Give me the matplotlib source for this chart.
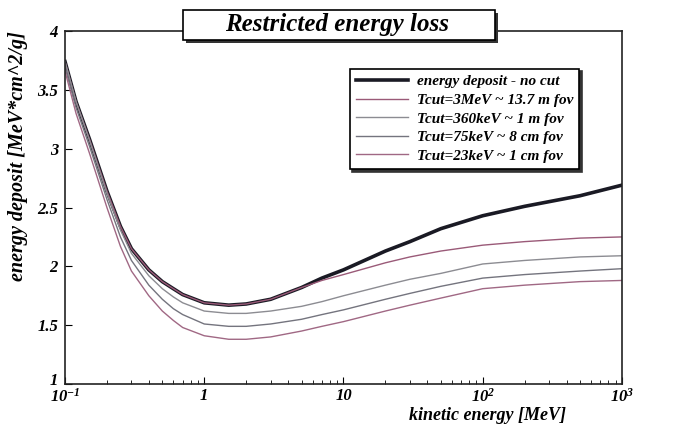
import matplotlib
matplotlib.use("Agg")
import matplotlib.pyplot as plt
from matplotlib.patches import Rectangle
from matplotlib.transforms import ScaledTranslation

plt.rcParams['font.family'] = ['Liberation Serif', 'DejaVu Serif']
plt.rcParams['mathtext.fontset'] = 'custom'
plt.rcParams['mathtext.rm'] = 'Liberation Serif:italic:bold'
plt.rcParams['mathtext.it'] = 'Liberation Serif:italic:bold'

# ******* data *****************************

energy = [0.1, 0.12, 0.15, 0.2, 0.25, 0.3, 0.4, 0.5, 0.6, 0.7, 1, 1.5, 2, 3,
          5, 7, 10, 20, 30, 50, 100, 200, 500, 1000]

no_cut = [3.74, 3.40, 3.08, 2.64, 2.34, 2.15, 1.97, 1.87, 1.81, 1.76, 1.69,
          1.67, 1.68, 1.72, 1.82, 1.90, 1.97, 2.13, 2.21, 2.32, 2.43, 2.51,
          2.60, 2.69]
cut_3MeV = [3.74, 3.40, 3.08, 2.64, 2.34, 2.15, 1.97, 1.87, 1.81, 1.76, 1.69,
            1.67, 1.68, 1.72, 1.82, 1.88, 1.93, 2.03, 2.08, 2.13, 2.18, 2.21,
            2.24, 2.25]
cut_360keV = [3.74, 3.40, 3.07, 2.62, 2.31, 2.11, 1.92, 1.81, 1.74, 1.69,
              1.62, 1.60, 1.60, 1.62, 1.66, 1.70, 1.75, 1.84, 1.89, 1.94,
              2.02, 2.05, 2.08, 2.09]
cut_75keV = [3.70, 3.35, 3.02, 2.57, 2.25, 2.05, 1.84, 1.72, 1.64, 1.59,
             1.51, 1.49, 1.49, 1.51, 1.55, 1.59, 1.63, 1.72, 1.77, 1.83,
             1.90, 1.93, 1.96, 1.98]
cut_23keV = [3.66, 3.30, 2.96, 2.50, 2.17, 1.96, 1.75, 1.62, 1.54, 1.48,
             1.41, 1.38, 1.38, 1.40, 1.45, 1.49, 1.53, 1.62, 1.67, 1.73,
             1.81, 1.84, 1.87, 1.88]

labels = ["energy deposit - no cut",
          "Tcut=3MeV ~ 13.7 m fov",
          "Tcut=360keV ~ 1 m fov",
          "Tcut=75keV ~ 8 cm fov",
          "Tcut=23keV ~ 1 cm fov"]

x_ticks = [0.1, 1, 10, 100, 1000]
x_ticklabels = [r"$10^{-1}$", "1", "10", r"$10^{2}$", r"$10^{3}$"]
y_ticks = [1, 1.5, 2, 2.5, 3, 3.5, 4]
y_ticklabels = ["1", "1.5", "2", "2.5", "3", "3.5", "4"]

# **********************************

W, H = 693, 425


def px(x, y):
    # pixel position (from top left) -> figure fraction
    return x / W, 1 - y / H


fig = plt.figure(figsize=(6.93, 4.25), dpi=100)
ax = fig.add_axes([0.0938, 0.0965, 0.8037, 0.8305])

ax.plot(energy, no_cut, color="#1a1a24", linewidth=2.6, label=labels[0])
ax.plot(energy, cut_3MeV, color="#9a5a78", linewidth=1.0, label=labels[1])
ax.plot(energy, cut_360keV, color="#8c8c92", linewidth=1.0, label=labels[2])
ax.plot(energy, cut_75keV, color="#74747e", linewidth=1.0, label=labels[3])
ax.plot(energy, cut_23keV, color="#a06884", linewidth=1.0, label=labels[4])

ax.set_xscale("log")
ax.set_xlim(0.1, 1000)
ax.set_ylim(1, 4)
ax.set_xticks(x_ticks)
ax.set_xticklabels(x_ticklabels)
ax.set_yticks(y_ticks)
ax.set_yticklabels(y_ticklabels)
ax.tick_params(axis="both", which="both", direction="in", labelsize=12)
ax.tick_params(axis="both", which="major", length=5, pad=5)
ax.tick_params(axis="x", which="major", pad=3)
ax.tick_params(axis="x", which="minor", length=3)
for lab in ax.get_xticklabels() + ax.get_yticklabels():
    lab.set_fontstyle("italic")
    lab.set_fontweight("bold")
# lift the lowest y label a little so it clears the 10^-1 label
low = ax.get_yticklabels()[0]
low.set_transform(low.get_transform() + ScaledTranslation(0, 5 / 100, fig.dpi_scale_trans))
for sp in ax.spines.values():
    sp.set_linewidth(1.2)
    sp.set_color("#222222")

# axis labels
x0, y0 = px(488, 415)
fig.text(x0, y0, "kinetic energy [MeV]", fontsize=13, fontstyle="italic",
         fontweight="bold", ha="center", va="center")
x0, y0 = px(18, 156)
fig.text(x0, y0, "energy deposit [MeV*cm^2/g]", rotation=90,
         fontsize=14.5, fontstyle="italic", fontweight="bold",
         ha="center", va="center")

# title in a box with a shadow, sitting on the top frame
bx0, by0 = px(183, 40)
bw, bh = 312 / W, 30 / H
fig.patches.append(Rectangle((bx0 + 3 / W, by0 - 3 / H), bw, bh,
                             transform=fig.transFigure, fc="#333333",
                             ec="none", zorder=5))
fig.patches.append(Rectangle((bx0, by0), bw, bh, transform=fig.transFigure,
                             fc="white", ec="black", lw=1.2, zorder=6))
x0, y0 = px(337, 25)
fig.text(x0, y0, "Restricted energy loss", fontsize=18, fontstyle="italic",
         fontweight="bold", ha="center", va="center", zorder=7)

leg = ax.legend(loc="upper right", bbox_to_anchor=(0.937, 0.915), fontsize=11,
                frameon=True, fancybox=False,
                shadow={"color": "#333333", "alpha": 1},
                edgecolor="black", borderpad=0.4, labelspacing=0.32,
                handlelength=3.4, handletextpad=0.6)
leg.get_frame().set_linewidth(1.2)
for t in leg.get_texts():
    t.set_fontstyle("italic")
    t.set_fontweight("bold")

fig.savefig("out.png", dpi=100)
